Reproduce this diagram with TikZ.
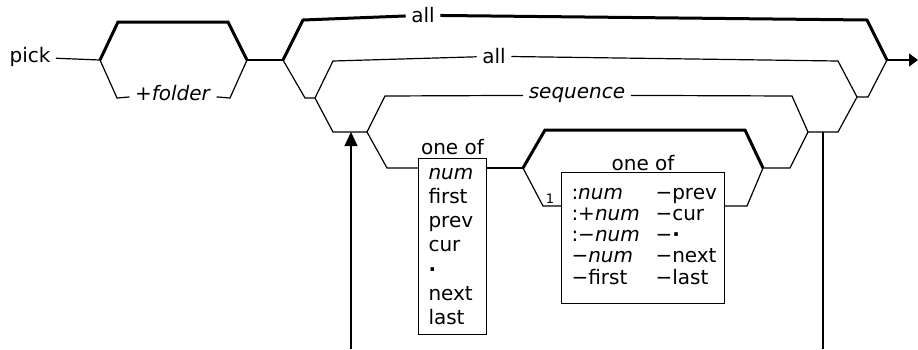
\documentclass[tikz,border=0pt]{standalone}
\usepackage{fontspec}
\setmainfont{DejaVu Sans}
\usepackage{tikz}
\usetikzlibrary{arrows.meta,positioning}

\begin{document}
\begin{tikzpicture}[x=1pt,y=-1pt,line width=1.2pt,font=\fontsize{20}{24}\selectfont,
  thk/.style={line width=3pt},
  lbl/.style={inner xsep=5pt,inner ysep=0pt,anchor=mid},
  lst/.style={draw,line width=1pt,anchor=north west,inner xsep=10pt,inner ysep=0pt,align=left},
  oneof/.style={inner sep=0pt}]
  \useasboundingbox (0,0) rectangle (918,349);
  \node[lbl] (pick) at (30,60) {pick};
  \node[lbl] (folder) at (173,98) {\textit{+folder}};
  \coordinate (a1) at (100,60);
  \coordinate (a2) at (247,60);
  \draw (pick) -- (a1);
  \draw[thk] (a1) -- (118,22) -- (228,22) -- (a2);
  \draw (a1) -- (117,98) -- (folder) -- (230,98) -- (a2);
  \coordinate (c1) at (283,60);
  \coordinate (e1) at (887,60);
  \draw (a2) -- (c1);
  \node[lbl] (all1) at (423,20) {all};
  \draw[thk] (c1) -- (303,20) -- (all1) -- (867,20) -- (e1);
  \draw[-{Triangle[length=9pt,width=13pt]}] (e1) -- (918,60);
  \coordinate (c2) at (315,98);
  \coordinate (e2) at (857,97);
  \node[lbl] (all2) at (494,61) {all};
  \draw (c1) -- (305,98) -- (c2) -- (333,61) -- (all2) -- (838,61) -- (e2) -- (868,97) -- (e1);
  \coordinate (c3) at (367,132);
  \coordinate (e3) at (808,132);
  \node[lbl] (seq) at (577,96) {\textit{sequence}};
  \draw (c2) -- (333,132) -- (c3) -- (385,96) -- (seq) -- (792,96) -- (e3) -- (838,132) -- (e2);
  \node[lst,text width=48pt,minimum height=176pt,font=\fontsize{20}{24.3}\selectfont] (box1) at (418,158)
    {\textit{num}\\first\\prev\\cur\\\textbf{·}\\next\\last};
  \node[oneof,above=3pt of box1] (of1) {one of};
  \coordinate (c4) at (523,168);
  \coordinate (e4) at (763,168);
  \draw (c3) -- (387,168) -- ([yshift=-10pt]box1.north west);
  \draw ([yshift=-10pt]box1.north east) -- (c4);
  \node[lst,text width=143pt,minimum height=131pt,font=\fontsize{20}{21}\selectfont] (box2) at (561,172)
    {\begin{tabular}{@{}p{84pt}@{}l@{}}
      :\textit{num} & −prev\\
      :+\textit{num} & −cur\\
      :−\textit{num} & −\textbf{·}\\
      −\textit{num} & −next\\
      −first & −last
    \end{tabular}};
  \node[oneof,above=1pt of box2] (of2) {one of};
  \draw[thk] (c4) -- (545,130) -- (745,130) -- (e4);
  \draw (c4) -- (543,206) -- ([yshift=-34pt]box2.north west);
  \node[inner sep=1pt,anchor=south,font=\fontsize{13}{13}\selectfont] (one) at (550,205) {1};
  \draw ([yshift=-34pt]box2.north east) -- (747,206) -- (e4) -- (790,168) -- (e3);
  \coordinate (lp1) at (823,132);
  \coordinate (lp2) at (351,132);
  \draw (lp1) -- (823,349);
  \draw[-{Triangle[length=14pt,width=13pt]}] (351,349) -- (lp2);
\end{tikzpicture}
\end{document}
